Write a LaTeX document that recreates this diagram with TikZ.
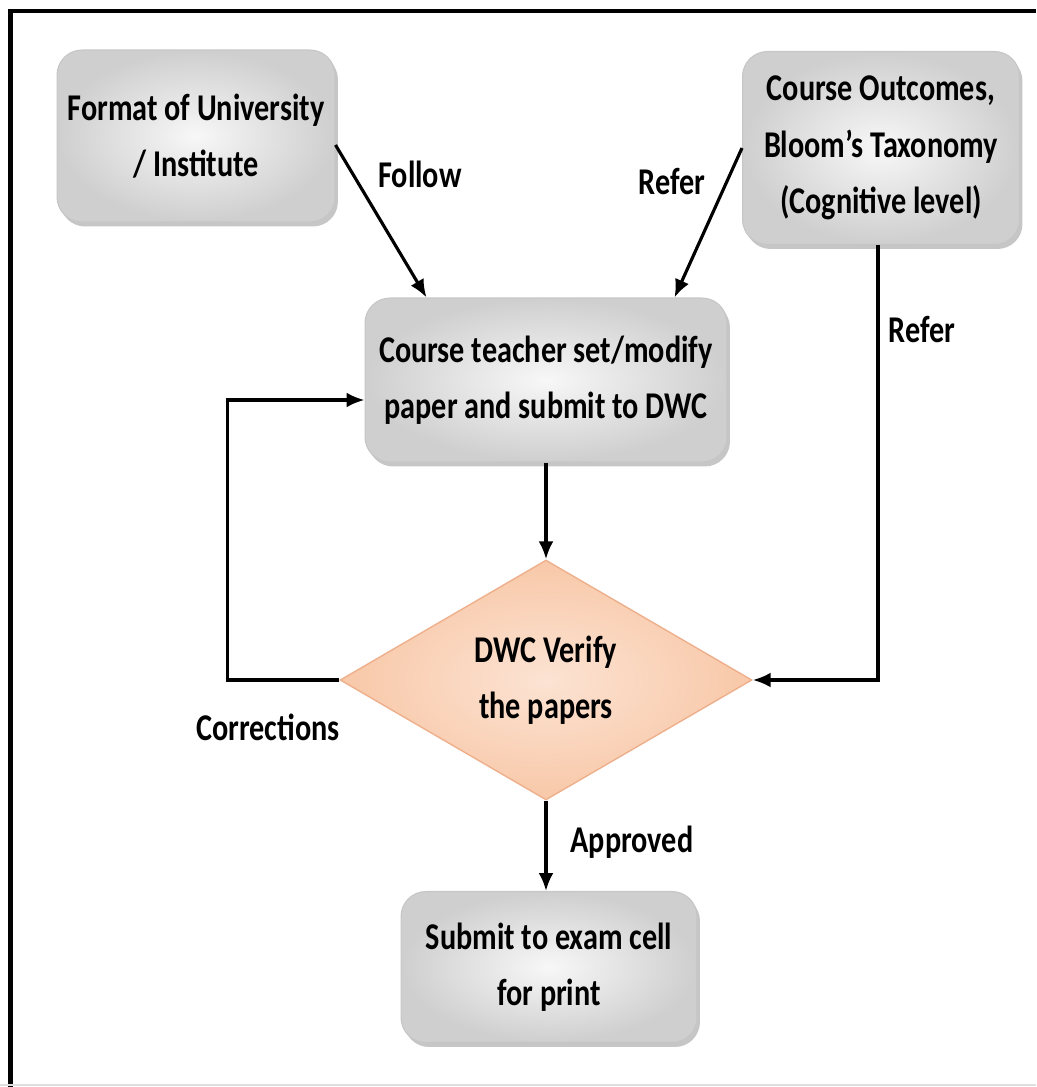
\documentclass[tikz,border=0pt]{standalone}
\usepackage{fontspec}
\setmainfont{Carlito}[FakeStretch=0.8]
\usetikzlibrary{shapes.geometric, arrows.meta, shadows, positioning}
\usetikzlibrary{calc}
\usepackage{xcolor}
\definecolor{peach}{HTML}{F8C8A8}
\definecolor{peachlite}{HTML}{FCE3D3}
\definecolor{peachedge}{HTML}{EEB08C}

\begin{document}
\begin{tikzpicture}[x=0.02cm, y=-0.02cm,
		greybox/.style={rectangle, rounded corners=0.5cm, draw=gray!45, line width=0.6pt,
			inner color=gray!6, outer color=gray!38, align=center,
			drop shadow={opacity=0.45, shadow xshift=0.06cm, shadow yshift=-0.09cm},
			font=\fontsize{21.5}{32}\selectfont\bfseries},
		verify/.style={diamond, draw=peachedge, line width=0.8pt, inner color=peachlite, outer color=peach,
			inner sep=0pt, minimum width=8.24cm, minimum height=4.8cm, align=center,
			font=\fontsize{21.5}{32}\selectfont\bfseries},
		lbl/.style={font=\fontsize{21.5}{32}\selectfont\bfseries, inner sep=0pt},
		link/.style={line width=1.8pt, -{Latex[length=0.36cm, width=0.3cm]}}]
		\useasboundingbox (0,0) rectangle (1036,1087);
		\draw[line width=2.6pt] (10.5,1087) -- (10.5,11) -- (1036,11);
		\draw[gray!25, line width=1pt] (0,1085) -- (1036,1085);
		
		\draw (196,136) node[greybox, minimum width=5.56cm, minimum height=3.44cm] (fmt) {Format of University\\/ Institute}
		(881,148) node[greybox, minimum width=5.54cm, minimum height=3.86cm] (co) {Course Outcomes,\\Bloom’s Taxonomy\\(Cognitive level)}
		(546,380) node[greybox, minimum width=7.24cm, minimum height=3.28cm] (teach) {Course teacher set/modify\\paper and submit to DWC}
		(546,680) node[verify] (dwc) {DWC Verify\\the papers}
		(549,967) node[greybox, minimum width=5.92cm, minimum height=3.02cm] (exam) {Submit to exam cell\\for print};
		
		\draw[link] ([yshift=-0.18cm]fmt.east) -- ($(teach.north west)+(62,0)$);
		\draw[link] (co.west) -- ($(teach.north east)+(-53,0)$);
		\draw[link] ([xshift=-0.06cm]co.south) |- (dwc.east);
		\draw[link] (teach.south) -- (dwc.north);
		\draw[link] (dwc.west) -- ++(-112,0) |- ([yshift=-0.4cm]teach.west);
		\draw[link] (dwc.south) -- (dwc.south |- exam.north);
		
		\node[lbl] (follow) at (420,174) {Follow};
		\node[lbl] (refer1) at (672,182) {Refer};
		\node[lbl] (refer2) at (922,330) {Refer};
		\node[lbl] (corr) at (268,727) {Corrections};
		\node[lbl] (appr) at (632,842) {Approved};
	\end{tikzpicture}
\end{document}
